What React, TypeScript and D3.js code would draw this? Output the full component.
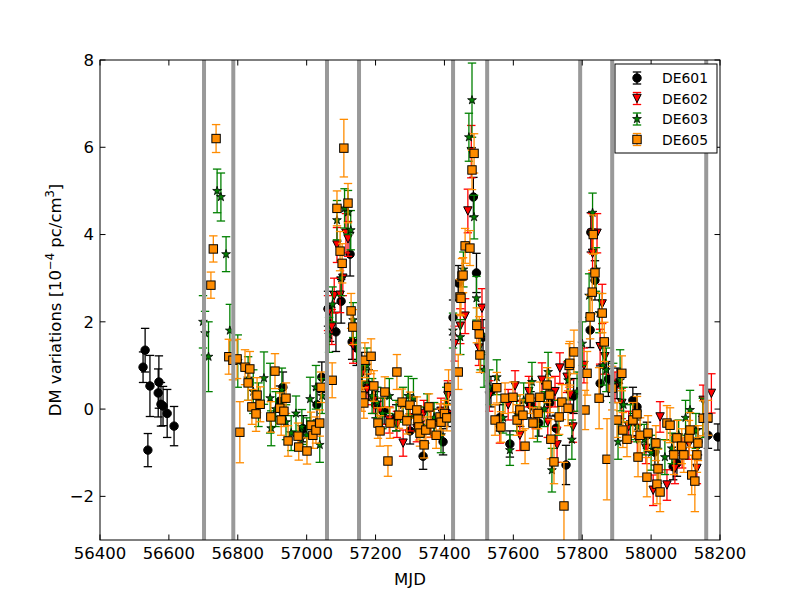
import { useRef, useEffect } from 'react';
import * as d3 from 'd3';

// [MJD, DM variation (1e-4 pc/cm^3), error]
type Point = [number, number, number];

const de601: Point[] = [
  [56525, 0.96, 0.35], [56531, 1.35, 0.5], [56539, -0.94, 0.38], [56545, 0.53, 0.7],
  [56569, 0.37, 0.55], [56571, 0.62, 0.6], [56577, 0.11, 0.5], [56583, 0.07, 0.45],
  [56595, -0.1, 0.55], [56615, -0.39, 0.45],
  [56922, 0.18, 0.35], [56931, 0.5, 0.35], [56990, -0.45, 0.3], [57030, 0.1, 0.35], [57044, 0.73, 0.35],
  [57062, 2.3, 0.4], [57068, 1.95, 0.4], [57085, 1.77, 0.45], [57100, 2.47, 0.5], [57126, 3.55, 0.5],
  [57132, 1.54, 0.4], [57145, 1.4, 0.4],
  [57160, 0.9, 0.4], [57180, 0.55, 0.35], [57200, 0.1, 0.3], [57225, -0.05, 0.3], [57260, -0.2, 0.3],
  [57300, -0.5, 0.3], [57338, -1.08, 0.3], [57370, -0.3, 0.3], [57396, -0.75, 0.3], [57410, -0.1, 0.3],
  [57425, 2.1, 0.4], [57440, 2.89, 0.4], [57484, 4.86, 0.45], [57493, 3.12, 0.45], [57512, 1.65, 0.4],
  [57535, 0.4, 0.35], [57560, -0.2, 0.3], [57590, -0.8, 0.3], [57620, -0.1, 0.3], [57650, 0.1, 0.3],
  [57674, -0.32, 0.3], [57706, 0.14, 0.3], [57724, -0.44, 0.3], [57753, -1.28, 0.45], [57775, 0.3, 0.4],
  [57823, 1.81, 0.4], [57825, 4.05, 0.45], [57837, 2.95, 0.45], [57852, 0.59, 0.4], [57876, 0.69, 0.4],
  [57901, 0.59, 0.35], [57947, 0.2, 0.3], [57959, 0.05, 0.3], [57988, -0.6, 0.3], [58011, -0.98, 0.3],
  [58064, -1.32, 0.3], [58075, -1.24, 0.3], [58136, -0.75, 0.3], [58165, -0.6, 0.3], [58194, -0.64, 0.3],
];

const de602: Point[] = [
  [57062, 2.2, 0.4], [57073, 1.88, 0.4], [57080, 2.6, 0.4], [57088, 3.76, 0.4], [57097, 2.61, 0.4],
  [57105, 3.0, 0.4], [57114, 4.03, 0.45], [57120, 3.9, 0.4], [57135, 1.45, 0.4],
  [57160, 0.8, 0.35], [57175, 0.45, 0.35], [57195, 0.2, 0.3], [57215, -0.05, 0.3], [57240, -0.25, 0.3],
  [57262, -0.35, 0.3], [57280, -0.78, 0.3], [57300, -0.2, 0.3], [57320, -0.45, 0.3], [57340, -0.1, 0.3],
  [57360, -0.35, 0.3], [57390, -0.05, 0.3], [57410, 0.3, 0.35],
  [57430, 1.5, 0.4], [57446, 1.9, 0.4], [57460, 2.13, 0.4], [57468, 4.54, 0.5], [57478, 5.9, 0.6],
  [57500, 1.4, 0.4], [57509, 2.31, 0.45],
  [57530, 0.3, 0.35], [57561, -0.48, 0.3], [57585, 0.1, 0.35], [57605, 0.53, 0.35], [57619, -0.6, 0.35],
  [57645, 0.4, 0.35], [57665, -0.1, 0.35], [57683, 0.66, 0.4], [57700, -0.3, 0.35], [57721, 0.4, 0.35],
  [57727, -0.82, 0.4], [57735, 0.94, 0.35], [57756, 0.73, 0.35], [57765, 0.32, 0.35], [57773, -0.41, 0.35],
  [57805, 1.0, 0.4], [57828, 4.03, 0.45], [57830, 3.57, 0.45], [57843, 4.03, 0.45], [57852, 1.43, 0.4],
  [57858, 2.41, 0.45], [57866, 1.2, 0.4],
  [57895, 0.5, 0.35], [57915, 0.13, 0.35], [57935, -0.4, 0.35], [57960, -0.7, 0.35], [57985, -0.9, 0.35],
  [58006, -1.86, 0.35], [58026, -0.18, 0.35], [58046, -1.74, 0.35], [58069, -1.36, 0.35], [58090, -1.0, 0.35],
  [58110, -0.8, 0.35], [58133, -1.36, 0.35], [58151, 0.2, 0.35], [58175, 0.36, 0.45],
];

const de603: Point[] = [
  [56699, 2.0, 0.6], [56705, 1.74, 0.5], [56715, 1.2, 0.8], [56740, 5.0, 0.5], [56751, 4.86, 0.55],
  [56766, 3.55, 0.4], [56777, 1.8, 0.6],
  [56800, 1.1, 0.6], [56830, 0.7, 0.5], [56845, 0.4, 0.5], [56860, 0.1, 0.5], [56876, 0.71, 0.6],
  [56894, 0.25, 0.8], [56897, -0.44, 0.4], [56910, 0.0, 0.4], [56928, 0.44, 0.5], [56940, -0.3, 0.4],
  [56955, -0.55, 0.4], [56969, -0.1, 0.4], [56986, -0.41, 0.4], [57000, -0.6, 0.4], [57010, 0.23, 0.5],
  [57027, 0.5, 0.5], [57038, -0.82, 0.4], [57045, 0.3, 0.4],
  [57065, 1.7, 0.4], [57075, 2.4, 0.4], [57088, 4.33, 0.45], [57100, 3.0, 0.4], [57110, 4.6, 0.45],
  [57120, 4.51, 0.5], [57128, 4.1, 0.45], [57135, 2.04, 0.4], [57145, 1.5, 0.4],
  [57160, 0.6, 0.4], [57175, 1.0, 0.4], [57190, 0.3, 0.4], [57205, 0.15, 0.35], [57220, -0.1, 0.35],
  [57240, 0.3, 0.4], [57260, -0.15, 0.35], [57280, 0.1, 0.4], [57295, 0.3, 0.45], [57310, 0.25, 0.45],
  [57330, -0.3, 0.35], [57350, 0.0, 0.35], [57370, -0.2, 0.35], [57390, -0.6, 0.4], [57405, 0.1, 0.4],
  [57425, 1.8, 0.4], [57446, 1.65, 0.4], [57455, 3.2, 0.4], [57471, 6.23, 0.55], [57480, 7.08, 0.85],
  [57486, 4.4, 0.5], [57493, 2.54, 0.5], [57505, 1.3, 0.4], [57515, 0.9, 0.4],
  [57530, 0.5, 0.4], [57552, 0.73, 0.4], [57570, -0.2, 0.35], [57590, -0.94, 0.35], [57610, -0.1, 0.4],
  [57630, 0.2, 0.4], [57654, 0.62, 0.45], [57670, -0.35, 0.4], [57690, 0.0, 0.4], [57701, 0.85, 0.45],
  [57712, -1.4, 0.5], [57730, -0.2, 0.4], [57759, 0.66, 0.45], [57770, -0.7, 0.45], [57785, 0.4, 0.45],
  [57800, 1.5, 0.5], [57820, 2.6, 0.5], [57830, 4.5, 0.45], [57840, 3.2, 0.5], [57850, 2.2, 0.45],
  [57860, 1.0, 0.45], [57870, 0.9, 0.5],
  [57890, 0.6, 0.45], [57904, -0.75, 0.4], [57910, 0.66, 0.7], [57920, 0.1, 0.4], [57940, -0.3, 0.4],
  [57960, -0.4, 0.35], [57980, -0.7, 0.35], [58000, -1.0, 0.4], [58020, -1.3, 0.4], [58040, -1.1, 0.4],
  [58060, -0.9, 0.35], [58080, -0.6, 0.35], [58100, -0.2, 0.4], [58113, -0.02, 0.45], [58130, -0.5, 0.4],
  [58150, -0.2, 0.45],
];

const de605: Point[] = [
  [56722, 2.84, 0.3], [56729, 3.67, 0.3], [56737, 6.2, 0.32], [56774, 1.2, 0.4], [56786, 1.12, 0.45],
  [56798, 1.15, 0.45], [56806, -0.53, 0.7], [56821, 0.96, 0.4], [56830, 0.6, 0.4], [56835, 0.92, 0.4],
  [56841, 0.05, 0.4], [56853, -0.11, 0.4], [56856, 0.32, 0.4], [56865, 0.11, 0.4], [56896, -0.18, 0.35],
  [56908, 0.87, 0.4], [56922, 0.02, 0.35], [56926, -0.25, 0.35], [56934, -0.05, 0.35], [56940, 0.25, 0.35],
  [56946, -0.73, 0.35], [56975, -0.62, 0.3], [56977, -0.87, 0.3], [57001, -0.96, 0.3], [57013, -0.37, 0.3],
  [57018, -0.6, 0.3], [57027, -0.48, 0.3], [57038, -0.32, 0.3], [57042, 0.5, 0.35],
  [57074, 0.66, 0.4], [57088, 4.6, 0.4], [57097, 3.62, 0.45], [57103, 3.34, 0.45], [57108, 5.98, 0.66],
  [57120, 4.72, 0.45], [57129, 2.25, 0.4], [57134, 1.88, 0.4],
  [57160, 0.3, 0.35], [57166, 0.14, 0.35], [57169, 1.12, 0.4], [57187, 1.21, 0.4], [57195, 0.53, 0.35],
  [57207, -0.32, 0.35], [57213, -0.5, 0.35], [57227, 0.39, 0.35], [57236, -1.19, 0.35], [57242, -0.32, 0.35],
  [57262, 0.85, 0.4], [57268, -0.14, 0.3], [57277, 0.16, 0.3], [57291, -0.27, 0.3], [57300, 0.09, 0.3],
  [57320, -0.02, 0.3], [57323, -0.23, 0.3], [57326, -0.41, 0.3], [57329, -0.55, 0.3], [57341, -0.82, 0.3],
  [57346, -0.48, 0.3], [57355, 0.05, 0.3], [57361, -0.34, 0.3], [57376, -0.6, 0.3], [57387, -0.18, 0.3],
  [57390, -0.3, 0.3], [57400, -0.1, 0.3], [57407, -0.2, 0.3], [57412, 0.5, 0.4],
  [57440, 0.85, 0.4], [57445, 2.57, 0.4], [57448, 2.54, 0.4], [57451, 3.05, 0.4], [57454, 3.07, 0.4],
  [57460, 3.74, 0.4], [57474, 3.69, 0.4], [57480, 5.48, 0.45], [57486, 5.86, 0.45], [57494, 1.92, 0.4],
  [57501, 1.72, 0.4], [57503, 1.24, 0.4],
  [57547, -0.25, 0.35], [57552, 0.49, 0.35], [57564, -0.41, 0.35], [57576, 0.25, 0.35], [57599, 0.27, 0.35],
  [57611, -0.25, 0.35], [57619, -0.02, 0.35], [57628, -0.14, 0.35], [57634, -0.85, 0.4], [57648, 0.25, 0.35],
  [57657, -0.32, 0.35], [57672, -0.1, 0.35], [57677, 0.27, 0.35], [57698, 0.55, 0.4], [57706, 0.32, 0.4],
  [57709, -0.69, 0.45], [57718, -1.21, 0.5], [57733, -0.18, 0.4], [57741, 0.16, 0.4], [57747, -2.22, 1.0],
  [57759, 0.02, 0.4], [57762, 1.0, 0.5], [57764, 1.05, 0.5], [57776, 1.31, 0.5],
  [57808, -0.02, 0.45], [57814, 0.82, 0.5], [57823, 2.11, 0.5], [57829, 2.68, 0.5], [57832, 4.0, 0.45],
  [57837, 3.12, 0.45], [57849, 0.25, 0.7], [57858, 2.2, 0.45], [57864, 1.54, 0.45], [57872, -1.15, 0.93],
  [57887, 0.48, 0.5],
  [57901, -0.25, 0.4], [57915, 0.82, 0.4], [57918, -0.48, 0.4], [57930, -0.69, 0.4], [57947, -0.25, 0.4],
  [57959, -0.11, 0.4], [57962, -1.1, 0.45], [57968, -0.6, 0.4], [57988, -1.56, 0.45], [57991, -0.55, 0.4],
  [58014, -0.78, 0.4], [58017, -1.72, 0.45], [58020, -1.37, 0.45], [58026, -1.9, 0.45], [58046, -0.32, 0.4],
  [58055, -0.37, 0.4], [58066, -1.05, 0.45], [58075, -0.66, 0.4], [58089, -0.85, 0.4], [58095, -1.05, 0.4],
  [58110, -0.66, 0.4], [58113, -0.48, 0.4], [58118, -1.51, 0.45], [58127, -1.65, 0.7], [58133, -1.05, 0.4],
  [58136, -0.78, 0.4], [58151, -0.21, 0.4], [58165, -0.2, 0.4],
];

// gray vertical markers (MJD)
const epochLines = [56702, 56787, 57059, 57152, 57425, 57524, 57794, 57887, 58160];

const xTicks = [56400, 56600, 56800, 57000, 57200, 57400, 57600, 57800, 58000, 58200];
const yTicks = [-2, 0, 2, 4, 6, 8];

type Marker = 'circle' | 'triangle' | 'star' | 'square';

const series: { name: string; data: Point[]; color: string; marker: Marker }[] = [
  { name: 'DE601', data: de601, color: '#000000', marker: 'circle' },
  { name: 'DE602', data: de602, color: '#ff0000', marker: 'triangle' },
  { name: 'DE603', data: de603, color: '#008000', marker: 'star' },
  { name: 'DE605', data: de605, color: '#ff8c00', marker: 'square' },
];

const width = 800;
const height = 600;
const margin = { top: 60, right: 80, bottom: 60, left: 100 };

const ms = 4.2; // half marker size in px

const drawMarker = (
  g: d3.Selection<SVGGElement, unknown, null, undefined>,
  marker: Marker,
  color: string,
  x: number,
  y: number
) => {
  if (marker === 'circle') {
    g.append('circle').attr('cx', x).attr('cy', y).attr('r', ms)
      .attr('fill', color).attr('stroke', 'black').attr('stroke-width', 1);
  } else if (marker === 'square') {
    g.append('rect').attr('x', x - ms).attr('y', y - ms).attr('width', 2 * ms).attr('height', 2 * ms)
      .attr('fill', color).attr('stroke', 'black').attr('stroke-width', 1);
  } else if (marker === 'triangle') {
    g.append('path')
      .attr('d', `M${x - ms},${y - ms}L${x + ms},${y - ms}L${x},${y + ms}Z`)
      .attr('fill', color).attr('stroke', 'black').attr('stroke-width', 1);
  } else {
    g.append('path')
      .attr('d', d3.symbol(d3.symbolStar, 24)())
      .attr('transform', `translate(${x},${y})`)
      .attr('fill', color).attr('stroke', 'black').attr('stroke-width', 0.8);
  }
};

const Chart = () => {
  const svgRef = useRef<SVGSVGElement>(null);

  useEffect(() => {
    const svg = d3.select(svgRef.current);
    svg.selectAll('*').remove();

    const innerWidth = width - margin.left - margin.right;
    const innerHeight = height - margin.top - margin.bottom;

    const xScale = d3.scaleLinear().domain([56400, 58200]).range([0, innerWidth]);
    const yScale = d3.scaleLinear().domain([-3, 8]).range([innerHeight, 0]);

    svg.append('defs').append('clipPath').attr('id', 'plot-clip')
      .append('rect').attr('width', innerWidth).attr('height', innerHeight);

    const g = svg.append('g').attr('transform', `translate(${margin.left}, ${margin.top})`);
    const plot = g.append('g').attr('clip-path', 'url(#plot-clip)');

    const cap = 4.2;
    const lw = 1.3;

    // each series: error bars first, then markers (later series on top)
    series.forEach((s) => {
      const sg = plot.append('g');
      s.data.forEach(([mjd, dm, err]) => {
        const x = xScale(mjd);
        const y0 = yScale(dm - err);
        const y1 = yScale(dm + err);
        sg.append('line').attr('x1', x).attr('x2', x).attr('y1', y0).attr('y2', y1)
          .attr('stroke', s.color).attr('stroke-width', lw);
        [y0, y1].forEach((yy) => {
          sg.append('line').attr('x1', x - cap).attr('x2', x + cap).attr('y1', yy).attr('y2', yy)
            .attr('stroke', s.color).attr('stroke-width', lw);
        });
      });
      s.data.forEach(([mjd, dm]) => {
        drawMarker(sg, s.marker, s.color, xScale(mjd), yScale(dm));
      });
    });

    // gray epoch lines
    epochLines.forEach((m) => {
      plot.append('line')
        .attr('x1', xScale(m)).attr('x2', xScale(m))
        .attr('y1', 0).attr('y2', innerHeight)
        .attr('stroke', '#999999').attr('stroke-width', 4);
    });

    // frame
    g.append('rect').attr('width', innerWidth).attr('height', innerHeight)
      .attr('fill', 'none').attr('stroke', 'black').attr('stroke-width', 1);

    const tickLen = 5.5;
    const font = 'DejaVu Sans, sans-serif';
    const fs = 16.5;

    xTicks.forEach((t) => {
      const x = xScale(t);
      g.append('line').attr('x1', x).attr('x2', x).attr('y1', innerHeight).attr('y2', innerHeight - tickLen)
        .attr('stroke', 'black');
      g.append('line').attr('x1', x).attr('x2', x).attr('y1', 0).attr('y2', tickLen)
        .attr('stroke', 'black');
      g.append('text').attr('x', x).attr('y', innerHeight + 19)
        .attr('text-anchor', 'middle').attr('font-family', font).attr('font-size', fs)
        .text(t);
    });

    yTicks.forEach((t) => {
      const y = yScale(t);
      g.append('line').attr('x1', 0).attr('x2', tickLen).attr('y1', y).attr('y2', y)
        .attr('stroke', 'black');
      g.append('line').attr('x1', innerWidth).attr('x2', innerWidth - tickLen).attr('y1', y).attr('y2', y)
        .attr('stroke', 'black');
      g.append('text').attr('x', -6).attr('y', y).attr('dy', '0.36em')
        .attr('text-anchor', 'end').attr('font-family', font).attr('font-size', fs)
        .text(t < 0 ? `\u2212${Math.abs(t)}` : t);
    });

    // x-axis label
    g.append('text').attr('x', innerWidth / 2).attr('y', innerHeight + 45)
      .attr('text-anchor', 'middle').attr('font-family', font).attr('font-size', fs)
      .text('MJD');

    // y-axis label
    const yl = g.append('text')
      .attr('transform', `translate(-39, ${innerHeight / 2}) rotate(-90)`)
      .attr('text-anchor', 'middle').attr('font-family', font).attr('font-size', fs);
    yl.append('tspan').text('DM variations [10');
    yl.append('tspan').attr('dy', -7).attr('font-size', 11.5).text('\u22124');
    yl.append('tspan').attr('dy', 7).text(' pc/cm');
    yl.append('tspan').attr('dy', -7).attr('font-size', 11.5).text('3');
    yl.append('tspan').attr('dy', 7).text(']');

    // legend
    const lg = g.append('g').attr('transform', `translate(${515}, ${4})`);
    lg.append('rect').attr('width', 102).attr('height', 89)
      .attr('fill', 'white').attr('stroke', 'black').attr('stroke-width', 1);
    series.forEach((s, i) => {
      const cy = 14 + i * 20.5;
      const cx = 22;
      lg.append('line').attr('x1', cx).attr('x2', cx).attr('y1', cy - 6).attr('y2', cy + 6)
        .attr('stroke', s.color).attr('stroke-width', lw);
      [cy - 6, cy + 6].forEach((yy) => {
        lg.append('line').attr('x1', cx - cap).attr('x2', cx + cap).attr('y1', yy).attr('y2', yy)
          .attr('stroke', s.color).attr('stroke-width', lw);
      });
      drawMarker(lg as any, s.marker, s.color, cx, cy);
      lg.append('text').attr('x', 47).attr('y', cy).attr('dy', '0.36em')
        .attr('font-family', font).attr('font-size', 13.9)
        .text(s.name);
    });
  }, []);

  return <svg ref={svgRef} width={width} height={height} style={{ display: 'block', background: 'white' }} />;
};

const App = () => (
  <div style={{ position: 'absolute', left: 0, top: 0 }}>
    <Chart />
  </div>
);

export default App;
